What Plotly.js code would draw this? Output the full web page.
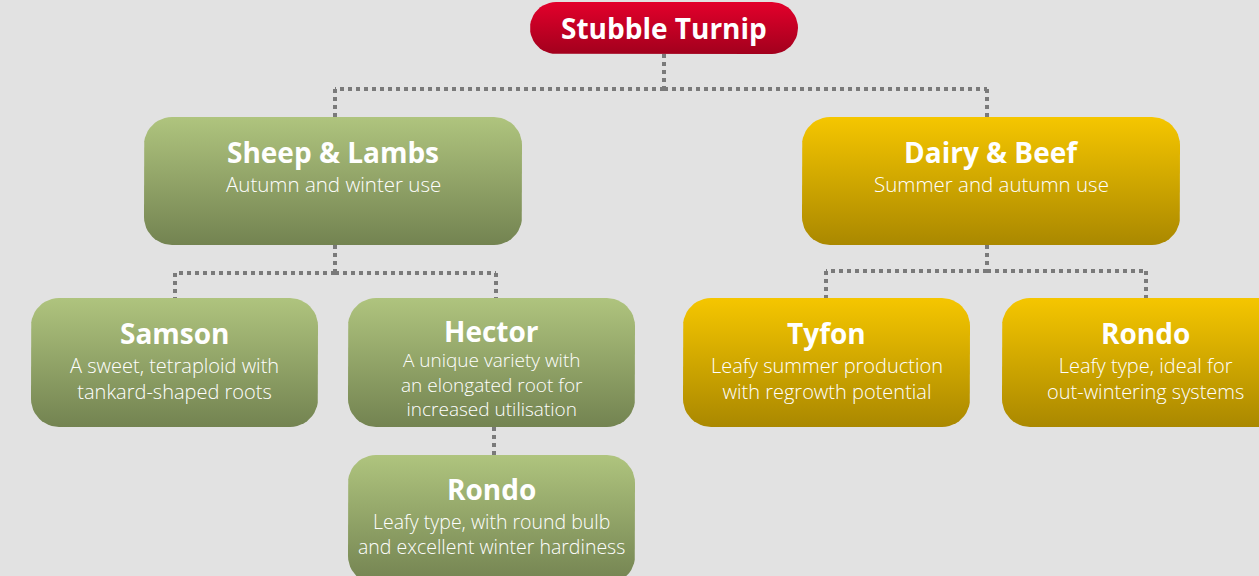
<!DOCTYPE html>
<html>
<head>
<meta charset="utf-8">
<script src="https://cdn.plot.ly/plotly-3.0.1.min.js"></script>
<style>html,body{margin:0;padding:0;background:#e2e2e2;}#chart{width:1259px;height:576px;}</style>
</head>
<body>
<div id="chart"></div>
<script>
// ---- content ----
const nodeNames = ["Stubble Turnip", "Sheep & Lambs", "Dairy & Beef", "Samson", "Hector", "Rondo", "Tyfon", "Rondo"];
const nodeDescriptions = [
  "",
  "Autumn and winter use",
  "Summer and autumn use",
  "A sweet, tetraploid with<br>tankard-shaped roots",
  "A unique variety with<br>an elongated root for<br>increased utilisation",
  "Leafy type, with round bulb<br>and excellent winter hardiness",
  "Leafy summer production<br>with regrowth potential",
  "Leafy type, ideal for<br>out-wintering systems"
];
const nodeGroups = ["root", "sheep", "dairy", "sheep", "sheep", "sheep", "dairy", "dairy"];
const nodeParents = [-1, 0, 0, 1, 1, 4, 2, 2];

// ---- layout geometry (pixel space) ----
// ty: title centre, dy: description block centre, ds: description font size
const boxes = [
  {cx: 664,   cy: 28,    w: 268, h: 52,  r: 26, ty: 28,  dy: 0,   ds: 20},
  {cx: 333,   cy: 181,   w: 378, h: 128, r: 28, ty: 152, dy: 184, ds: 20.5},
  {cx: 991,   cy: 181,   w: 378, h: 128, r: 28, ty: 152, dy: 184, ds: 20.5},
  {cx: 174.5, cy: 362.5, w: 287, h: 129, r: 28, ty: 333, dy: 378, ds: 20},
  {cx: 491.5, cy: 362.5, w: 287, h: 129, r: 28, ty: 331, dy: 384, ds: 19},
  {cx: 491.5, cy: 519.5, w: 287, h: 129, r: 28, ty: 489, dy: 534, ds: 19.5},
  {cx: 826.5, cy: 362.5, w: 287, h: 129, r: 28, ty: 333, dy: 378, ds: 20},
  {cx: 1145.5,cy: 362.5, w: 287, h: 129, r: 28, ty: 333, dy: 378, ds: 20}
];
const connectorX = [664, 335, 987, 175, 496, 494, 826, 1146];
const elbowY = {0: 89, 1: 273, 2: 271, 4: null};
// [top colour, bottom colour]
const groupColors = {
  root:  ["#e3002b", "#a2001d"],
  sheep: ["#afc47e", "#738351"],
  dairy: ["#f5c600", "#aa8800"]
};

function roundedRect(b) {
  const xs = [], ys = [];
  const x0 = b.cx - b.w / 2, x1 = b.cx + b.w / 2, y0 = b.cy - b.h / 2, y1 = b.cy + b.h / 2, r = b.r;
  const corners = [
    [x1 - r, y0 + r, -90, 0],
    [x1 - r, y1 - r, 0, 90],
    [x0 + r, y1 - r, 90, 180],
    [x0 + r, y0 + r, 180, 270]
  ];
  corners.forEach(c => {
    for (let i = 0; i <= 12; i++) {
      const a = (c[2] + (c[3] - c[2]) * i / 12) * Math.PI / 180;
      xs.push(c[0] + r * Math.cos(a));
      ys.push(c[1] + r * Math.sin(a));
    }
  });
  xs.push(xs[0]); ys.push(ys[0]);
  return {xs, ys};
}

const traces = [];
const annotations = [];
const shapes = [];
const dotLine = {color: "#7a7a7a", width: 4, dash: "dot"};

// connectors
nodeParents.forEach((p, i) => {
  if (p < 0) return;
  const pb = boxes[p], cb = boxes[i];
  const px = connectorX[p], cxp = connectorX[i];
  const pBottom = pb.cy + pb.h / 2, cTop = cb.cy - cb.h / 2;
  const my = elbowY[p];
  if (my == null) {
    shapes.push({type: "line", xref: "x", yref: "y", x0: cxp, x1: cxp, y0: pBottom, y1: cTop, line: dotLine, layer: "below"});
  } else {
    shapes.push({type: "line", xref: "x", yref: "y", x0: px, x1: px, y0: pBottom, y1: my, line: dotLine, layer: "below"});
    shapes.push({type: "line", xref: "x", yref: "y", x0: px, x1: cxp, y0: my, y1: my, line: dotLine, layer: "below"});
    shapes.push({type: "line", xref: "x", yref: "y", x0: cxp, x1: cxp, y0: my, y1: cTop, line: dotLine, layer: "below"});
  }
});

// boxes + text
nodeNames.forEach((name, i) => {
  const b = boxes[i];
  const rr = roundedRect(b);
  const cols = groupColors[nodeGroups[i]];
  traces.push({
    type: "scatter", mode: "lines", x: rr.xs, y: rr.ys,
    fill: "toself",
    fillcolor: cols[0],
    // gradient runs from bottom (0) to top (1) on screen
    fillgradient: {type: "vertical", colorscale: [[0, cols[1]], [1, cols[0]]]},
    line: {width: 0, color: "rgba(0,0,0,0)"},
    hoverinfo: "skip", showlegend: false
  });
  annotations.push({
    x: b.cx, y: b.ty, xref: "x", yref: "y", text: name, showarrow: false,
    xanchor: "center", yanchor: "middle", borderpad: 0,
    font: {family: "Open Sans", size: 28, color: "#ffffff", weight: 700}
  });
  if (nodeDescriptions[i]) {
    annotations.push({
      x: b.cx, y: b.dy, xref: "x", yref: "y", text: nodeDescriptions[i], showarrow: false,
      xanchor: "center", yanchor: "middle", align: "center", borderpad: 0,
      font: {family: "Open Sans", size: b.ds, color: "#ffffff", weight: 300}
    });
  }
});

const layout = {
  width: 1259, height: 576,
  margin: {l: 0, r: 0, t: 0, b: 0},
  paper_bgcolor: "#e2e2e2", plot_bgcolor: "#e2e2e2",
  xaxis: {range: [0, 1259], visible: false, fixedrange: true},
  yaxis: {range: [576, 0], visible: false, fixedrange: true},
  showlegend: false,
  shapes: shapes,
  annotations: annotations
};

Plotly.newPlot("chart", traces, layout, {displayModeBar: false, staticPlot: true});
</script>
</body>
</html>
